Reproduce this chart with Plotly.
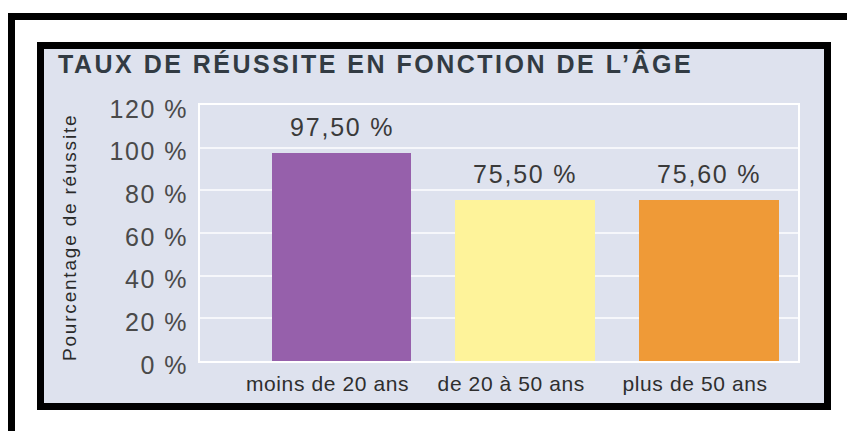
import plotly.graph_objects as go

# ---- data ----
categories = ["moins de 20 ans", "de 20 à 50 ans", "plus de 50 ans"]
success_rates = [97.5, 75.5, 75.6]
value_labels = ["97,50 %", "75,50 %", "75,60 %"]
bar_colors = ["#9660ab", "#fef39a", "#ef9a37"]
y_tick_vals = [0, 20, 40, 60, 80, 100, 120]
y_tick_labels = ["0 %", "20 %", "40 %", "60 %", "80 %", "100 %", "120 %"]
title_text = "TAUX DE RÉUSSITE EN FONCTION DE L’ÂGE"
y_title_text = "Pourcentage de réussite"

# ---- layout geometry (pixels) ----
W, H = 847, 431
L, R, T, B = 200, 798, 105, 361
PANEL_BG = "#dee2ee"
TEXT = "#3a3a3a"
FONT = "Liberation Sans, Arial, sans-serif"


def px_x(px):
    return (px - L) / (R - L)


def px_y(py):
    return (B - py) / (B - T)


def spaced(s, ls):
    return f'<span style="letter-spacing:{ls}px">{s}</span>'


fig = go.Figure()
fig.add_trace(go.Bar(
    x=categories, y=success_rates, width=0.76,
    marker=dict(color=bar_colors, line=dict(width=0)),
    hoverinfo="skip",
))

shapes = []
# outer black frame (top and left strokes)
shapes.append(dict(type="rect", xref="paper", yref="paper", layer="below",
                   x0=px_x(8), x1=px_x(850), y0=px_y(13), y1=px_y(20),
                   fillcolor="black", line=dict(width=0)))
shapes.append(dict(type="rect", xref="paper", yref="paper", layer="below",
                   x0=px_x(8), x1=px_x(15), y0=px_y(13), y1=px_y(440),
                   fillcolor="black", line=dict(width=0)))
# inner panel with black border
shapes.append(dict(type="rect", xref="paper", yref="paper", layer="below",
                   x0=px_x(37), x1=px_x(831), y0=px_y(42), y1=px_y(410),
                   fillcolor="black", line=dict(width=0)))
shapes.append(dict(type="rect", xref="paper", yref="paper", layer="below",
                   x0=px_x(44), x1=px_x(824), y0=px_y(49), y1=px_y(403),
                   fillcolor=PANEL_BG, line=dict(width=0)))

annotations = []
for c, v, lab in zip(categories, success_rates, value_labels):
    annotations.append(dict(x=c, y=v, xref="x", yref="y", text=spaced(lab, 1.8),
                            showarrow=False, yshift=26, yanchor="middle",
                            xanchor="center",
                            font=dict(size=25, color=TEXT, family=FONT)))
annotations.append(dict(x=px_x(69.5), y=px_y(237.5), xref="paper", yref="paper",
                        text=spaced(y_title_text, 1.8), textangle=-90,
                        showarrow=False, xanchor="center", yanchor="middle",
                        font=dict(size=19, color="#2a2a2a", family=FONT)))

fig.update_layout(
    width=W, height=H, autosize=False,
    margin=dict(l=L, r=W - R, t=T, b=H - B, pad=0),
    paper_bgcolor="white", plot_bgcolor="rgba(0,0,0,0)",
    showlegend=False, bargap=0,
    shapes=shapes, annotations=annotations,
    title=dict(text=spaced(title_text, 2.5), xref="container", yref="container",
               x=58 / W, xanchor="left", y=1 - 64.5 / H, yanchor="middle",
               font=dict(size=25, color="#323b43", family=FONT, weight="bold")),
    xaxis=dict(type="category", range=[-0.77, 2.484], showgrid=False,
               zeroline=False, showline=True, mirror=True, linecolor="white",
               linewidth=2, layer="below traces", ticks="",
               tickvals=categories,
               ticktext=[spaced(c, 0.6) for c in categories],
               tickfont=dict(size=21, color="#2e2e2e", family=FONT),
               ticklabelshift=-14, ticklabelstandoff=3, automargin=False),
    yaxis=dict(range=[0, 120], tickvals=y_tick_vals,
               ticktext=[spaced(t, 1.5) for t in y_tick_labels],
               showgrid=True, gridcolor="#f6f7fb", gridwidth=2,
               zeroline=False, showline=True, mirror=True, linecolor="white",
               linewidth=2, layer="below traces", ticks="",
               tickfont=dict(size=25, color="#4a4a4a", family=FONT),
               ticklabelshift=4, ticklabelstandoff=5, automargin=False),
)

fig.write_html("out.html",
               config={"displayModeBar": False},
               post_script="document.body.style.margin='0';"
                           "document.body.style.overflow='hidden';")
